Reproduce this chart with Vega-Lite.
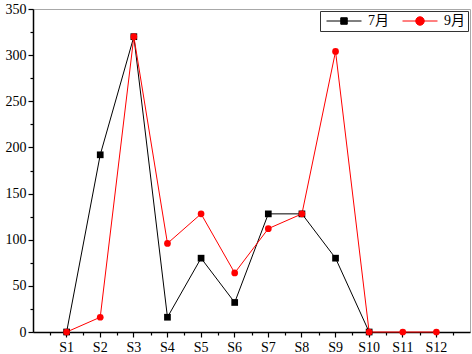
{
  "$schema": "https://vega.github.io/schema/vega-lite/v6.json",
  "autosize": "none",
  "width": 437,
  "height": 323,
  "padding": {"left": 33, "top": 9, "right": 2, "bottom": 22},
  "background": "white",
  "config": {
    "font": "'Liberation Serif', 'Noto Sans CJK SC'",
    "view": {"stroke": "#a8a8a8", "strokeWidth": 1},
    "axis": {"labelFont": "'Liberation Serif'", "labelFontSize": 14, "labelColor": "black", "domainColor": "black", "tickColor": "black", "title": null, "grid": false},
    "legend": {"labelFont": "'Liberation Serif', 'Noto Sans CJK SC'", "labelColor": "black"}
  },
  "data": {
    "values": [
      {"site": "S1", "month": "7月", "value": 0},
      {"site": "S2", "month": "7月", "value": 192},
      {"site": "S3", "month": "7月", "value": 320},
      {"site": "S4", "month": "7月", "value": 16},
      {"site": "S5", "month": "7月", "value": 80},
      {"site": "S6", "month": "7月", "value": 32},
      {"site": "S7", "month": "7月", "value": 128},
      {"site": "S8", "month": "7月", "value": 128},
      {"site": "S9", "month": "7月", "value": 80},
      {"site": "S10", "month": "7月", "value": 0},
      {"site": "S1", "month": "9月", "value": 0},
      {"site": "S2", "month": "9月", "value": 16},
      {"site": "S3", "month": "9月", "value": 320},
      {"site": "S4", "month": "9月", "value": 96},
      {"site": "S5", "month": "9月", "value": 128},
      {"site": "S6", "month": "9月", "value": 64},
      {"site": "S7", "month": "9月", "value": 112},
      {"site": "S8", "month": "9月", "value": 128},
      {"site": "S9", "month": "9月", "value": 304},
      {"site": "S10", "month": "9月", "value": 0},
      {"site": "S11", "month": "9月", "value": 0},
      {"site": "S12", "month": "9月", "value": 0}
    ]
  },
  "layer": [
    {
      "mark": {"type": "line", "strokeWidth": 1},
      "encoding": {
        "x": {
          "field": "site", "type": "ordinal",
          "scale": {"type": "band", "paddingInner": 0, "paddingOuter": 0.5, "domain": ["S1","S2","S3","S4","S5","S6","S7","S8","S9","S10","S11","S12"]},
          "axis": {"orient": "bottom", "tickBand": "extent", "tickSize": 3, "tickWidth": 1.2, "labels": false, "domainWidth": 1.5}
        },
        "y": {
          "field": "value", "type": "quantitative",
          "scale": {"domain": [0, 350], "nice": false, "zero": true},
          "axis": {
            "values": [0,25,50,75,100,125,150,175,200,225,250,275,300,325,350],
            "labelExpr": "datum.value % 50 === 0 ? datum.label : ''",
            "tickSize": {"condition": {"test": "datum.value % 50 === 0", "value": 5}, "value": 3},
            "tickWidth": 1.2, "domainWidth": 1.5, "labelPadding": 2
          }
        },
        "color": {"field": "month", "type": "nominal", "scale": {"domain": ["7月", "9月"], "range": ["black", "red"]}, "legend": null}
      }
    },
    {
      "mark": {"type": "point", "filled": true, "opacity": 1},
      "encoding": {
        "x": {
          "field": "site", "type": "ordinal",
          "scale": {"type": "band", "paddingInner": 0, "paddingOuter": 0.5, "domain": ["S1","S2","S3","S4","S5","S6","S7","S8","S9","S10","S11","S12"]},
          "axis": {"orient": "bottom", "tickSize": 5, "tickWidth": 1.2, "labelAngle": 0, "domain": false, "labelPadding": 3}
        },
        "y": {
          "field": "value", "type": "quantitative",
          "scale": {"domain": [0, 350], "nice": false, "zero": true},
          "axis": {
            "values": [0,25,50,75,100,125,150,175,200,225,250,275,300,325,350],
            "labelExpr": "datum.value % 50 === 0 ? datum.label : ''",
            "tickSize": {"condition": {"test": "datum.value % 50 === 0", "value": 5}, "value": 3},
            "tickWidth": 1.2, "domainWidth": 1.5, "labelPadding": 2
          }
        },
        "color": {"field": "month", "type": "nominal", "scale": {"domain": ["7月", "9月"], "range": ["black", "red"]}, "legend": null},
        "shape": {"field": "month", "type": "nominal", "scale": {"domain": ["7月", "9月"], "range": ["square", "circle"]}, "legend": null},
        "size": {"value": 45}
      }
    },
    {
      "mark": {"type": "point", "filled": true, "opacity": 0, "strokeWidth": 1},
      "encoding": {
        "x": {
          "field": "site", "type": "ordinal",
          "scale": {"type": "band", "paddingInner": 0, "paddingOuter": 0.5, "domain": ["S1","S2","S3","S4","S5","S6","S7","S8","S9","S10","S11","S12"]},
          "axis": null
        },
        "y": {
          "field": "value", "type": "quantitative",
          "scale": {"domain": [0, 350], "nice": false, "zero": true},
          "axis": {
            "values": [0,25,50,75,100,125,150,175,200,225,250,275,300,325,350],
            "labelExpr": "datum.value % 50 === 0 ? datum.label : ''",
            "tickSize": {"condition": {"test": "datum.value % 50 === 0", "value": 5}, "value": 3},
            "tickWidth": 1.2, "domainWidth": 1.5, "labelPadding": 2
          }
        },
        "color": {"field": "month", "type": "nominal", "scale": {"domain": ["7月", "9月"], "range": ["black", "red"]},
          "legend": {
            "title": null, "orient": "top-right", "direction": "horizontal", "offset": 2,
            "strokeColor": "#333", "padding": 3, "labelFontSize": 14,
            "symbolSize": 100, "symbolOpacity": 1, "symbolStrokeWidth": 1, "symbolOffset": 14, "labelOffset": 17, "columnPadding": 10
          }
        },
        "stroke": {"field": "month", "type": "nominal", "scale": {"domain": ["7月", "9月"], "range": ["black", "red"]},
          "legend": {
            "title": null, "orient": "top-right", "direction": "horizontal", "offset": 2,
            "strokeColor": "#333", "padding": 3, "labelFontSize": 14,
            "symbolSize": 100, "symbolOpacity": 1, "symbolStrokeWidth": 1, "symbolOffset": 14, "labelOffset": 17, "columnPadding": 10
          }
        },
        "shape": {"field": "month", "type": "nominal", "scale": {"domain": ["7月", "9月"], "range": ["M-3.5,0H3.5M-0.65,-0.65H0.65V0.65H-0.65Z", "M-3.5,0H3.5M-0.85,0A0.85,0.85 0 1,0 0.85,0A0.85,0.85 0 1,0 -0.85,0Z"]},
          "legend": {
            "title": null, "orient": "top-right", "direction": "horizontal", "offset": 2,
            "strokeColor": "#333", "padding": 3, "labelFontSize": 14,
            "symbolSize": 100, "symbolOpacity": 1, "symbolStrokeWidth": 1, "symbolOffset": 14, "labelOffset": 17, "columnPadding": 10
          }
        },
        "size": {"value": 100}
      }
    }
  ],
  "resolve": {"axis": {"x": "independent"}, "scale": {"shape": "independent", "color": "independent", "stroke": "independent"}}
}
